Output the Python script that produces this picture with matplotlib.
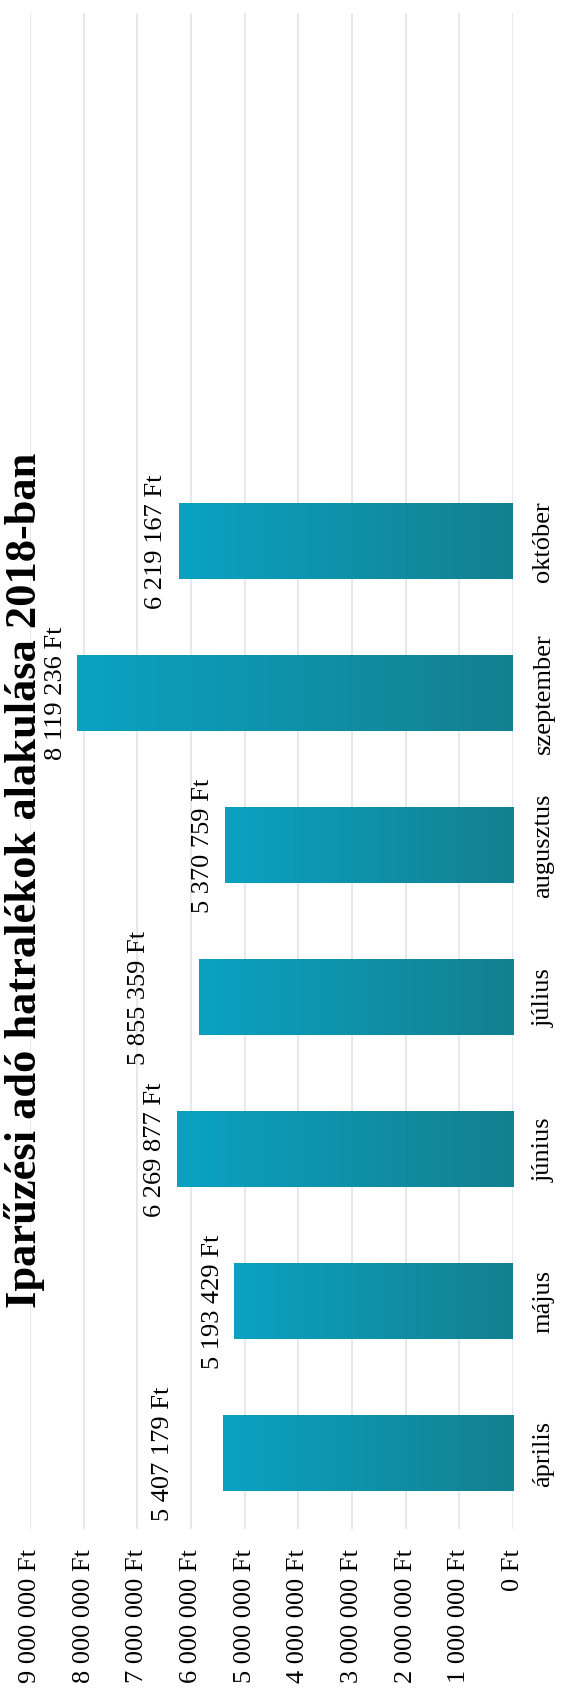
import matplotlib
matplotlib.use('Agg')
import matplotlib.pyplot as plt
import numpy as np
from matplotlib.colors import LinearSegmentedColormap

# adatok
honapok = ['április', 'május', 'június', 'július', 'augusztus', 'szeptember', 'október']
hatralek = [5407179, 5193429, 6269877, 5855359, 5370759, 8119236, 6219167]
tengely_ertekek = [0, 1000000, 2000000, 3000000, 4000000, 5000000, 6000000, 7000000, 8000000, 9000000]
cim = 'Iparűzési adó hatralékok alakulása 2018-ban'


def ft(v):
    return f"{v:,}".replace(',', ' ') + ' Ft'


plt.rcParams['font.family'] = ['Liberation Serif', 'DejaVu Serif']

fig = plt.figure(figsize=(5.65, 16.9), dpi=100)
ax = fig.add_axes([30 / 565, 160 / 1690, 483 / 565, 1516 / 1690])

pos = np.arange(len(honapok))
bars = ax.barh(pos, hatralek, height=0.5, color='#0e93ad', zorder=2)

# színátmenet az oszlopokon
cmap = LinearSegmentedColormap.from_list('teal', ['#13808f', '#0aa2c2'])
grad = np.linspace(0, 1, 256).reshape(1, -1)
for b in bars:
    x0, y0, w, h = b.get_x(), b.get_y(), b.get_width(), b.get_height()
    im = ax.imshow(grad, extent=[x0, x0 + w, y0, y0 + h], cmap=cmap,
                   aspect='auto', origin='lower', zorder=3)
    im.set_clip_path(b)

ax.set_xlim(9000000, 0)
ax.set_ylim(-0.5, 9.47)

ax.set_xticks(tengely_ertekek)
ax.set_xticklabels([ft(v) for v in tengely_ertekek], rotation=90)
ax.tick_params(axis='x', length=0, pad=14, labelsize=19)

ax.yaxis.tick_right()
ax.set_yticks(pos)
ax.set_yticklabels(honapok, rotation=90, va='center')
ax.tick_params(axis='y', length=0, pad=14, labelsize=19)

ax.grid(axis='x', color='#e4e9ef', linewidth=1.5, zorder=0)
ax.set_axisbelow(True)
for s in ax.spines.values():
    s.set_visible(False)

# adatfeliratok (áprilisi és júliusi kicsit távolabb)
eltolas = [35, 7.5, 7.5, 35, 7.5, 7.5, 9]
for i, v in enumerate(hatralek):
    ax.annotate(ft(v), xy=(v, i), xytext=(-eltolas[i], 0), textcoords='offset points',
                rotation=90, ha='right', va='center', fontsize=19, zorder=4)

fig.text(25 / 565, 1 - 880 / 1690, cim, rotation=90, ha='center', va='center',
         fontsize=32, fontweight='bold')

fig.savefig('out.png', dpi=100)
